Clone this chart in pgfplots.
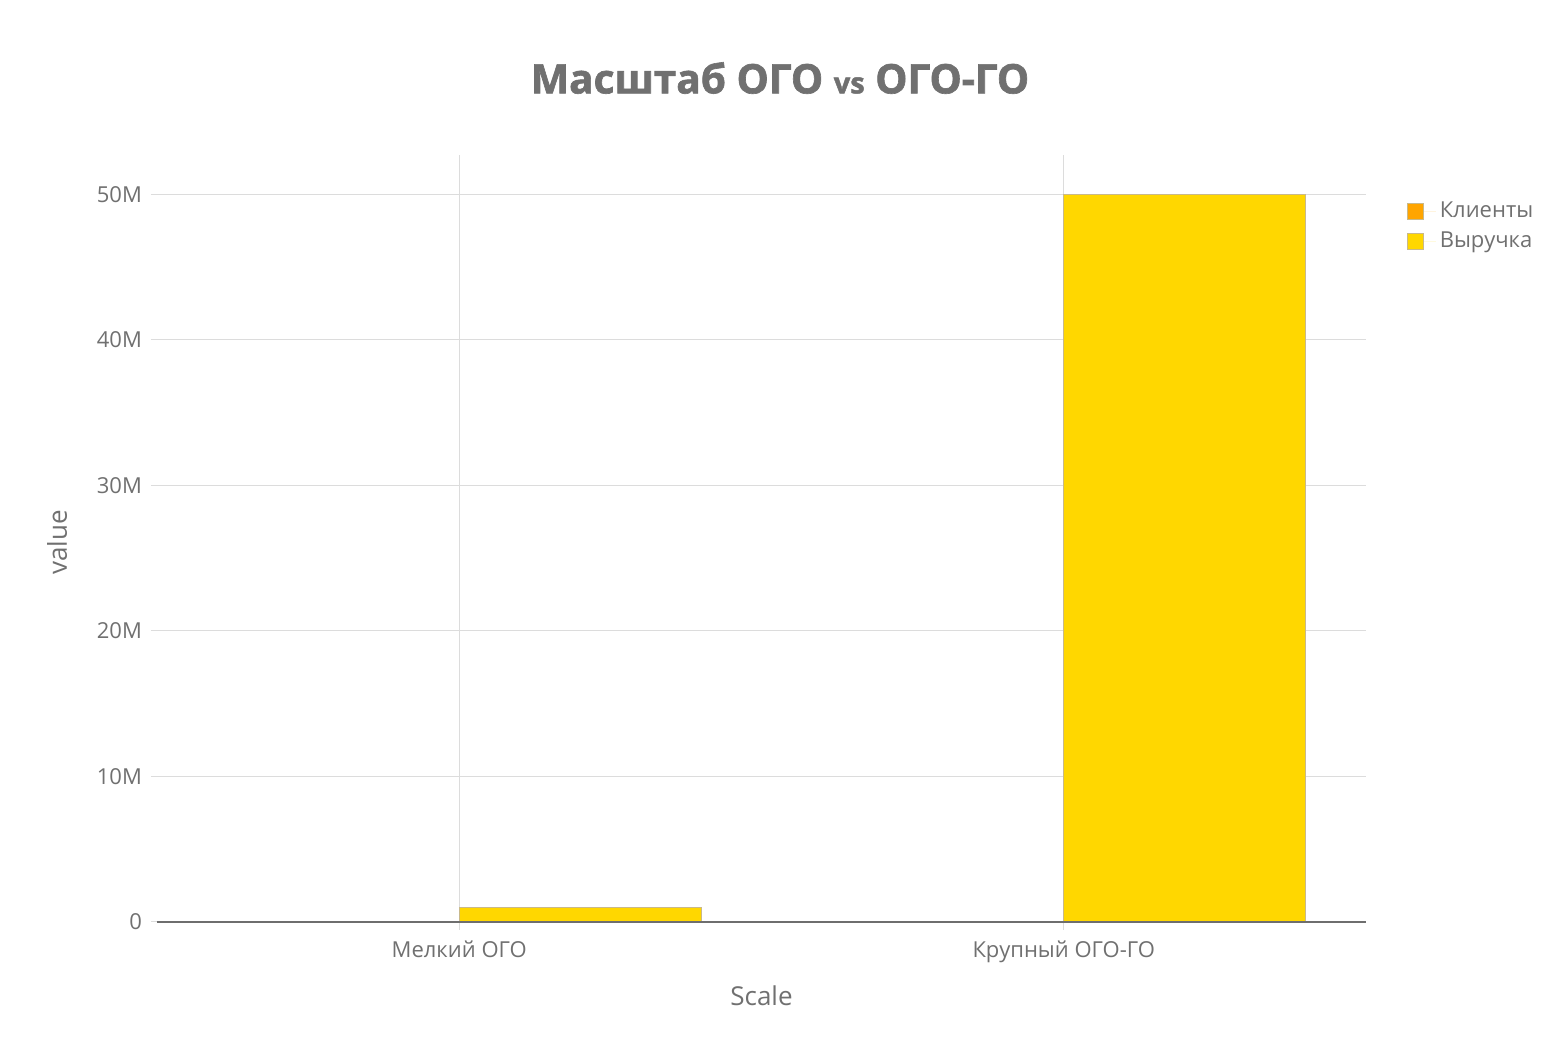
\documentclass[border=0pt]{standalone}
\usepackage{fontspec}
\setmainfont{Open Sans}
\newfontfamily\titlefont[FakeBold=1.6]{Open Sans}
\usepackage{pgfplots}
\pgfplotsset{compat=1.18}
\definecolor{txt}{HTML}{707070}
\definecolor{gridc}{HTML}{DCDCDC}
\definecolor{zeroc}{HTML}{6E6E6E}
\definecolor{klient}{HTML}{FFA500}
\definecolor{vyr}{HTML}{FFD700}
\definecolor{edgec}{HTML}{C9B98A}
\begin{document}
\begin{tikzpicture}[x=1pt,y=1pt]
\path[use as bounding box] (0,0) rectangle (780,520);
\node[text=txt, font=\titlefont\fontsize{20.3}{24}\selectfont\bfseries] at (390,481) {Масштаб ОГО {\fontsize{14.5}{18}\selectfont vs} ОГО-ГО};
\begin{axis}[
   at={(78.5pt,55pt)}, anchor=south west,
   scale only axis, width=604.5pt, height=387.5pt,
   xmin=-0.5, xmax=1.5, ymin=-0.55e6, ymax=52.7e6,
   xtick={0,1}, xticklabels={Мелкий ОГО, Крупный ОГО-ГО},
   ytick={0,1e7,2e7,3e7,4e7,5e7},
   yticklabels={0,10M,20M,30M,40M,50M},
   scaled y ticks=false, ytick pos=left,
   axis line style={draw=none},
   xmajorgrids, ymajorgrids,
   major grid style={draw=gridc, line width=0.5pt},
   x tick style={draw=none},
   y tick style={draw=gridc, line width=0.5pt},
   tick align=outside, major tick length=3pt,
   tick label style={text=txt, font=\fontsize{11}{13}\selectfont},
   yticklabel style={xshift=-1pt},
   xticklabel style={yshift=1pt},
   xlabel={Scale}, ylabel={value},
   label style={text=txt, font=\fontsize{13}{15}\selectfont},
   xlabel style={yshift=-4.5pt},
   ylabel style={yshift=8pt},
   legend style={at={(1.029,0.950)}, anchor=north west, draw=none,
      fill=none, font=\fontsize{11}{13}\selectfont, text=txt,
      row sep=1.5pt, legend cell align=left},
   legend image code/.code={\path[draw=none] (0pt,0pt) -- (14pt,0pt); \draw[#1] (0pt,-3.9pt) rectangle (7.8pt,3.9pt);},
   bar width=0.4,
]
\addplot[ybar, bar shift=-0.2, fill=klient, draw=edgec, line width=0.3pt] coordinates {(0,120) (1,40)};
\addlegendentry{Клиенты}
\addplot[ybar, bar shift=0.2, fill=vyr, draw=edgec, line width=0.3pt] coordinates {(0,1.0e6) (1,50.0e6)};
\addlegendentry{Выручка}
\draw[zeroc, line width=0.8pt] (axis cs:-0.5,0) -- (axis cs:1.5,0);
\end{axis}
\end{tikzpicture}
\end{document}
